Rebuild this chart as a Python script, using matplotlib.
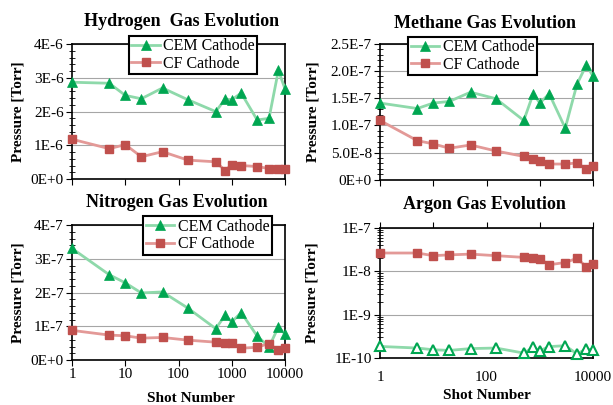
import matplotlib
matplotlib.use('Agg')
import matplotlib.pyplot as plt
import matplotlib.ticker as mticker
import numpy as np

plt.rcParams['font.family'] = 'Liberation Serif'

# Shot numbers (shared x values)
shots = [1, 5, 10, 20, 50, 150, 500, 750, 1000, 1500, 3000, 5000, 7500, 10000]

# Hydrogen [Torr]
h2_cem = [2.87e-6, 2.84e-6, 2.48e-6, 2.38e-6, 2.70e-6, 2.35e-6, 2.00e-6, 2.37e-6, 2.35e-6, 2.55e-6, 1.75e-6, 1.80e-6, 3.22e-6, 2.67e-6]
h2_cf = [1.18e-6, 0.90e-6, 1.02e-6, 0.66e-6, 0.81e-6, 0.56e-6, 0.51e-6, 0.25e-6, 0.43e-6, 0.40e-6, 0.37e-6, 0.31e-6, 0.31e-6, 0.31e-6]

# Methane [Torr]
ch4_cem = [1.41e-7, 1.31e-7, 1.41e-7, 1.44e-7, 1.61e-7, 1.49e-7, 1.09e-7, 1.58e-7, 1.41e-7, 1.58e-7, 0.95e-7, 1.76e-7, 2.11e-7, 1.90e-7]
ch4_cf = [1.09e-7, 0.72e-7, 0.66e-7, 0.58e-7, 0.64e-7, 0.53e-7, 0.43e-7, 0.39e-7, 0.35e-7, 0.29e-7, 0.29e-7, 0.31e-7, 0.20e-7, 0.25e-7]

# Nitrogen [Torr]
n2_cem = [3.31e-7, 2.53e-7, 2.29e-7, 1.99e-7, 2.02e-7, 1.54e-7, 0.93e-7, 1.33e-7, 1.13e-7, 1.41e-7, 0.71e-7, 0.39e-7, 0.98e-7, 0.77e-7]
n2_cf = [0.88e-7, 0.74e-7, 0.72e-7, 0.65e-7, 0.67e-7, 0.59e-7, 0.53e-7, 0.50e-7, 0.50e-7, 0.35e-7, 0.38e-7, 0.49e-7, 0.29e-7, 0.35e-7]

# Argon [Torr]
ar_cem = [1.85e-10, 1.70e-10, 1.55e-10, 1.50e-10, 1.65e-10, 1.70e-10, 1.30e-10, 1.76e-10, 1.48e-10, 1.83e-10, 1.93e-10, 1.24e-10, 1.64e-10, 1.50e-10]
ar_cf = [2.65e-8, 2.65e-8, 2.30e-8, 2.40e-8, 2.50e-8, 2.30e-8, 2.10e-8, 2.00e-8, 1.95e-8, 1.42e-8, 1.60e-8, 2.00e-8, 1.26e-8, 1.50e-8]

# Tick labels
h2_yticks = [0, 1e-6, 2e-6, 3e-6, 4e-6]
h2_ylabels = ['0E+0', '1E-6', '2E-6', '3E-6', '4E-6']
ch4_yticks = [0, 0.5e-7, 1.0e-7, 1.5e-7, 2.0e-7, 2.5e-7]
ch4_ylabels = ['0E+0', '5.0E-8', '1.0E-7', '1.5E-7', '2.0E-7', '2.5E-7']
n2_yticks = [0, 1e-7, 2e-7, 3e-7, 4e-7]
n2_ylabels = ['0E+0', '1E-7', '2E-7', '3E-7', '4E-7']
ar_yticks = [1e-10, 1e-9, 1e-8, 1e-7]
ar_ylabels = ['1E-10', '1E-9', '1E-8', '1E-7']
x_decades = [1, 10, 100, 1000, 10000]
n2_xlabels = ['1', '10', '100', '1000', '10000']
ar_xlabels = ['1', '', '100', '', '10000']

# Colors
green_mk = '#00a651'
green_ln = '#8ed9aa'
red_mk = '#c0504d'
red_ln = '#e39997'

fig = plt.figure(figsize=(6.13, 4.05), dpi=100)

ax_h = fig.add_axes([0.1175, 0.558, 0.3475, 0.333])
ax_m = fig.add_axes([0.620, 0.556, 0.3475, 0.336])
ax_n = fig.add_axes([0.1175, 0.111, 0.3475, 0.333])
ax_a = fig.add_axes([0.620, 0.116, 0.3475, 0.321])


def draw(ax, cem, cf, hollow=False):
    ax.plot(shots, cem, color=green_ln, lw=2.0, zorder=3, clip_on=False,
            marker='^', ms=7 if not hollow else 6.5, mfc='white' if hollow else green_mk,
            mec=green_mk, mew=1.5 if hollow else 0.5, label='CEM Cathode')
    ax.plot(shots, cf, color=red_ln, lw=2.0, zorder=3, clip_on=False,
            marker='s', ms=6, mfc=red_mk, mec=red_mk, label='CF Cathode')


def style(ax, yticks, ylabels, ymax, yminor):
    ax.set_xscale('log')
    ax.set_xlim(1, 10000)
    ax.set_xticks(x_decades)
    ax.xaxis.set_minor_locator(mticker.LogLocator(base=10, subs=np.arange(2, 10)))
    ax.xaxis.set_minor_formatter(mticker.NullFormatter())
    ax.set_ylim(0, ymax)
    ax.set_yticks(yticks)
    ax.set_yticklabels(ylabels)
    ax.yaxis.set_minor_locator(mticker.MultipleLocator(yminor))
    ax.grid(axis='y', which='major', color='#a6a6a6', lw=0.8)
    ax.set_axisbelow(True)
    for s in ax.spines.values():
        s.set_color('black')
        s.set_linewidth(1.2)
    ax.tick_params(axis='both', which='major', labelsize=11, direction='out', length=4, width=0.8, pad=2)
    ax.tick_params(axis='both', which='minor', direction='inout', length=4, width=0.6)
    ax.set_ylabel('Pressure [Torr]', fontsize=11, fontweight='bold')


def legend(ax, cx, top):
    leg = ax.legend(loc='upper center', bbox_to_anchor=(cx, top), fontsize=11.5, frameon=True,
                    fancybox=False, edgecolor='black', framealpha=1, borderpad=0.15,
                    handlelength=1.8, handletextpad=0.2, labelspacing=0.1, borderaxespad=0)
    leg.get_frame().set_linewidth(1.5)
    leg.set_zorder(5)


# Hydrogen
draw(ax_h, h2_cem, h2_cf)
style(ax_h, h2_yticks, h2_ylabels, 4e-6, 0.2e-6)
ax_h.tick_params(axis='x', labelbottom=False)
ax_h.yaxis.set_label_coords(-0.225, 0.5)
legend(ax_h, 0.568, 1.06)

# Methane
draw(ax_m, ch4_cem, ch4_cf)
style(ax_m, ch4_yticks, ch4_ylabels, 2.5e-7, 0.1e-7)
ax_m.tick_params(axis='x', labelbottom=False)
ax_m.yaxis.set_label_coords(-0.286, 0.5)
legend(ax_m, 0.434, 1.05)

# Nitrogen
draw(ax_n, n2_cem, n2_cf)
style(ax_n, n2_yticks, n2_ylabels, 4e-7, 0.2e-7)
ax_n.set_xticklabels(n2_xlabels)
ax_n.yaxis.set_label_coords(-0.225, 0.5)
ax_n.set_xlabel('Shot Number', fontsize=11, fontweight='bold')
ax_n.xaxis.set_label_coords(0.56, -0.24)
legend(ax_n, 0.636, 1.067)

# Argon (log scale, x axis crosses at top)
draw(ax_a, ar_cem, ar_cf, hollow=True)
style(ax_a, ar_yticks, ar_ylabels, 1e-7, 1)
ax_a.set_yscale('log')
ax_a.set_ylim(1e-10, 1e-7)
ax_a.set_yticks(ar_yticks)
ax_a.set_yticklabels(ar_ylabels)
ax_a.yaxis.set_minor_locator(mticker.LogLocator(base=10, subs=np.arange(2, 10)))
ax_a.yaxis.set_minor_formatter(mticker.NullFormatter())
ax_a.set_xticklabels(ar_xlabels)
ax_a.tick_params(axis='x', which='both', top=True, bottom=False, labelbottom=True, direction='out')
ax_a.tick_params(axis='x', which='major', pad=5)
ax_a.yaxis.set_label_coords(-0.29, 0.5)
ax_a.set_xlabel('Shot Number', fontsize=11, fontweight='bold')
ax_a.xaxis.set_label_coords(0.5, -0.24)

# Titles
fig.text(0.297, 0.948, 'Hydrogen  Gas Evolution', ha='center', va='center', fontsize=13, fontweight='bold')
fig.text(0.791, 0.942, 'Methane Gas Evolution', ha='center', va='center', fontsize=13, fontweight='bold')
fig.text(0.289, 0.501, 'Nitrogen Gas Evolution', ha='center', va='center', fontsize=13, fontweight='bold')
fig.text(0.790, 0.494, 'Argon Gas Evolution', ha='center', va='center', fontsize=13, fontweight='bold')

plt.savefig('out.png', dpi=100)
